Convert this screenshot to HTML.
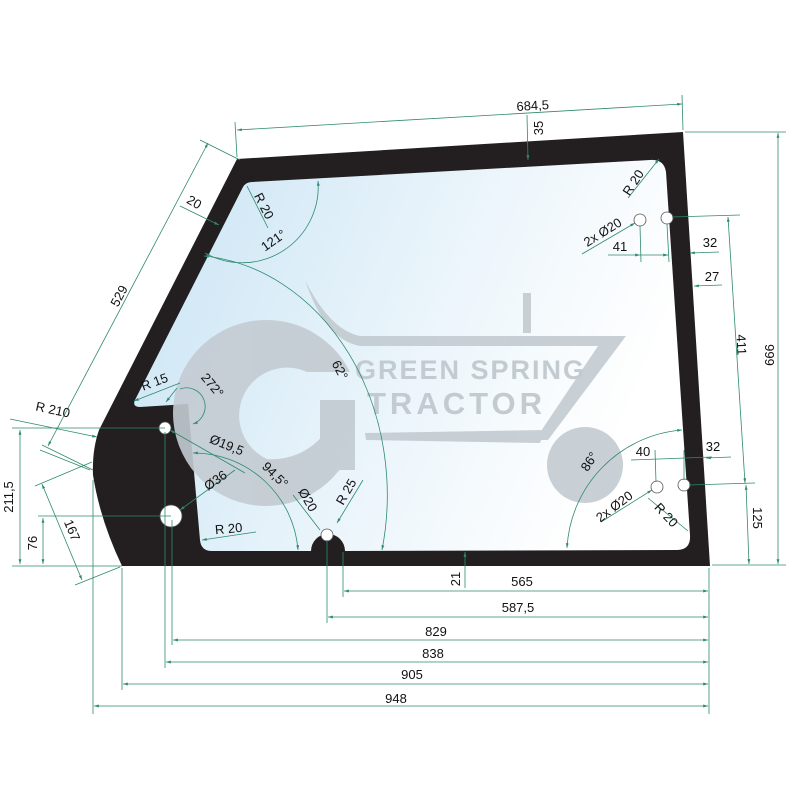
<!DOCTYPE html>
<html><head><meta charset="utf-8"><style>html,body{margin:0;padding:0;background:#fff}svg{display:block}</style></head>
<body>
<svg width="800" height="800" viewBox="0 0 800 800" xmlns="http://www.w3.org/2000/svg" font-family="Liberation Sans, sans-serif">
<defs>
<linearGradient id="gl" x1="0" y1="0" x2="1" y2="0.3">
<stop offset="0" stop-color="#c9e4f4"/><stop offset="0.6" stop-color="#ebf5fb"/><stop offset="1" stop-color="#ffffff"/>
</linearGradient>
<marker id="a" viewBox="0 0 10 10" refX="10" refY="5" markerWidth="6" markerHeight="6" orient="auto-start-reverse"><path d="M0,2 L10,5 L0,8z" fill="#2e8a6e"/></marker>
</defs>
<rect width="800" height="800" fill="#fff"/>
<path d="M237,159 L683,132 L710,566 L122,566 Q100,520 93,475 Q92,450 99,430 Z" fill="#231f20"/>
<path d="M252,182 L650,160 Q664,159 666,172 L690,535 Q691,550 677,550 L345,551 A17,17 0 0 0 311,551 L212,551 Q201,551 200,540 L188,404 L140,407 Q132,407 135,400 L243,187 Q246,182 252,182 Z" fill="url(#gl)"/>
<g fill="#c3cbd1" opacity="0.9">
<path d="M267,320 A93,93 0 1 0 355,440 L355,425 L330,425 A66,66 0 0 1 267,459 A46,46 0 1 1 307,372 L350,372 A93,93 0 0 0 267,320 Z"/>
<rect x="320" y="400" width="35" height="70"/>
<path d="M305,280 Q330,330 360,336 L626,336 L548,440 L535,440 L598,346 L360,346 Q325,340 305,280Z"/>
<path d="M365,433 L545,430 L540,443 L366,440Z"/>
<rect x="523" y="293" width="8" height="40"/>
<circle cx="585" cy="465" r="38"/>
</g>
<text x="355" y="379" font-size="27" font-weight="bold" fill="#c3cbd1" letter-spacing="2">GREEN SPRING</text>
<text x="367" y="414" font-size="31" font-weight="bold" fill="#c3cbd1" letter-spacing="4">TRACTOR</text>
<g fill="#fff" stroke="#555" stroke-width="0.8">
<circle cx="165" cy="428" r="6"/><circle cx="171" cy="516" r="11"/><circle cx="327" cy="535" r="6"/>
<circle cx="640" cy="220" r="6"/><circle cx="667" cy="218" r="6"/><circle cx="657" cy="487" r="6"/><circle cx="684" cy="485" r="6"/>
</g>
<g stroke="#2e8a6e" stroke-width="0.8" fill="none">
<line x1="237" y1="157" x2="235" y2="122"/><line x1="683" y1="130" x2="682" y2="95"/>
<line x1="237" y1="130" x2="682" y2="104" marker-start="url(#a)" marker-end="url(#a)"/>
<line x1="527" y1="115" x2="528" y2="160" marker-end="url(#a)"/>
<line x1="685" y1="132" x2="786" y2="132"/><line x1="712" y1="565" x2="786" y2="565"/>
<line x1="778" y1="133" x2="778" y2="564" marker-start="url(#a)" marker-end="url(#a)"/>
<line x1="672" y1="217" x2="740" y2="215"/><line x1="689" y1="485" x2="755" y2="483"/>
<line x1="728" y1="217" x2="745" y2="483" marker-start="url(#a)" marker-end="url(#a)"/>
<line x1="746" y1="485" x2="749" y2="564" marker-start="url(#a)" marker-end="url(#a)"/>
<line x1="608" y1="255" x2="640" y2="255" marker-end="url(#a)"/>
<line x1="640" y1="255" x2="668" y2="255" marker-end="url(#a)"/>
<line x1="719" y1="252" x2="690" y2="253" marker-end="url(#a)"/>
<line x1="640" y1="226" x2="641" y2="262"/><line x1="667" y1="224" x2="669" y2="262"/>
<line x1="722" y1="285" x2="694" y2="286" marker-end="url(#a)"/>
<line x1="631" y1="460" x2="712" y2="457"/>
<line x1="731" y1="457" x2="706" y2="458" marker-end="url(#a)"/>
<line x1="655" y1="450" x2="656" y2="482"/><line x1="684" y1="450" x2="684" y2="480"/>
<line x1="582" y1="254" x2="635" y2="223" marker-end="url(#a)"/>
<line x1="628" y1="198" x2="659" y2="159" marker-end="url(#a)"/>
<line x1="601" y1="522" x2="652" y2="490" marker-end="url(#a)"/>
<line x1="648" y1="498" x2="688" y2="531"/>
<line x1="208" y1="143" x2="48" y2="446" marker-start="url(#a)" marker-end="url(#a)"/>
<line x1="200" y1="140" x2="240" y2="160"/><line x1="40" y1="450" x2="90" y2="470"/>
<line x1="180" y1="206" x2="219" y2="225" marker-end="url(#a)"/>
<path d="M318,181 A76,76 0 0 1 205,253" marker-start="url(#a)" marker-end="url(#a)"/>
<line x1="247" y1="186" x2="268" y2="228"/>
<path d="M204,256 A200,240 0 0 1 382,550" marker-start="url(#a)" marker-end="url(#a)"/>
<path d="M567,548 A125,125 0 0 1 682,430" marker-start="url(#a)" marker-end="url(#a)"/>
<path d="M180,389 A18,18 0 1 1 193,424" marker-end="url(#a)"/>
<line x1="177" y1="388" x2="166" y2="402" marker-end="url(#a)"/>
<line x1="180" y1="383" x2="134" y2="401" marker-end="url(#a)"/>
<line x1="245" y1="473" x2="170" y2="430" marker-end="url(#a)"/>
<path d="M193,453 A105,105 0 0 1 298,550" marker-start="url(#a)" marker-end="url(#a)"/>
<line x1="235" y1="470" x2="180" y2="510" marker-end="url(#a)"/>
<line x1="256" y1="532" x2="202" y2="540" marker-end="url(#a)"/>
<line x1="293" y1="495" x2="320" y2="530"/>
<line x1="363" y1="480" x2="337" y2="523" marker-end="url(#a)"/>
<line x1="10" y1="419" x2="97" y2="437" marker-end="url(#a)"/>
<line x1="12" y1="428" x2="165" y2="428"/><line x1="38" y1="516" x2="171" y2="516"/>
<line x1="12" y1="566" x2="122" y2="566"/>
<line x1="20" y1="430" x2="20" y2="564" marker-start="url(#a)" marker-end="url(#a)"/>
<line x1="43" y1="518" x2="43" y2="564" marker-start="url(#a)" marker-end="url(#a)"/>
<line x1="35" y1="486" x2="92" y2="462"/>
<line x1="75" y1="585" x2="120" y2="567"/>
<line x1="42" y1="484" x2="82" y2="580" marker-start="url(#a)" marker-end="url(#a)"/>
<line x1="42" y1="445" x2="93" y2="470"/>
<line x1="122" y1="568" x2="122" y2="690"/><line x1="93" y1="480" x2="93" y2="714"/>
<line x1="165" y1="432" x2="165" y2="668"/><line x1="172" y1="520" x2="172" y2="645"/>
<line x1="327" y1="540" x2="327" y2="623"/><line x1="343" y1="552" x2="343" y2="597"/>
<line x1="709" y1="568" x2="709" y2="714"/>
<line x1="465" y1="588" x2="465" y2="552" marker-end="url(#a)"/>
<line x1="344" y1="591" x2="708" y2="591" marker-start="url(#a)" marker-end="url(#a)"/>
<line x1="328" y1="617" x2="708" y2="617" marker-start="url(#a)" marker-end="url(#a)"/>
<line x1="173" y1="640" x2="708" y2="640" marker-start="url(#a)" marker-end="url(#a)"/>
<line x1="166" y1="662" x2="708" y2="662" marker-start="url(#a)" marker-end="url(#a)"/>
<line x1="123" y1="684" x2="708" y2="684" marker-start="url(#a)" marker-end="url(#a)"/>
<line x1="94" y1="706" x2="708" y2="706" marker-start="url(#a)" marker-end="url(#a)"/>
</g>
<g font-size="13" fill="#111">
<text x="533" y="110" text-anchor="middle" transform="rotate(-3.5 533 110)">684,5</text>
<text x="0" y="0" transform="translate(543,128) rotate(-90)" text-anchor="middle">35</text>
<text x="0" y="0" transform="translate(765,355) rotate(90)" text-anchor="middle">999</text>
<text x="0" y="0" transform="translate(737,345) rotate(87)" text-anchor="middle">411</text>
<text x="0" y="0" transform="translate(753,518) rotate(90)" text-anchor="middle">125</text>
<text x="710" y="247" text-anchor="middle">32</text>
<text x="620" y="251" text-anchor="middle">41</text>
<text x="712" y="281" text-anchor="middle">27</text>
<text x="713" y="451" text-anchor="middle">32</text>
<text x="643" y="456" text-anchor="middle">40</text>
<text x="0" y="0" transform="translate(605,236) rotate(-32)" text-anchor="middle">2x Ø20</text>
<text x="0" y="0" transform="translate(637,185) rotate(-57)" text-anchor="middle">R 20</text>
<text x="0" y="0" transform="translate(617,510) rotate(-37)" text-anchor="middle">2x Ø20</text>
<text x="0" y="0" transform="translate(663,518) rotate(47)" text-anchor="middle">R 20</text>
<text x="0" y="0" transform="translate(593,464) rotate(-57)" text-anchor="middle">86°</text>
<text x="0" y="0" transform="translate(123,298) rotate(-62)" text-anchor="middle">529</text>
<text x="0" y="0" transform="translate(192,206) rotate(30)" text-anchor="middle">20</text>
<text x="0" y="0" transform="translate(260,208) rotate(63)" text-anchor="middle">R 20</text>
<text x="0" y="0" transform="translate(276,244) rotate(-35)" text-anchor="middle">121°</text>
<text x="0" y="0" transform="translate(336,372) rotate(62)" text-anchor="middle">62°</text>
<text x="0" y="0" transform="translate(156,386) rotate(-20)" text-anchor="middle">R 15</text>
<text x="0" y="0" transform="translate(209,388) rotate(50)" text-anchor="middle">272°</text>
<text x="0" y="0" transform="translate(225,449) rotate(22)" text-anchor="middle">Ø19,5</text>
<text x="0" y="0" transform="translate(272,478) rotate(45)" text-anchor="middle">94,5°</text>
<text x="0" y="0" transform="translate(218,484) rotate(-35)" text-anchor="middle">Ø36</text>
<text x="229" y="533" text-anchor="middle" transform="rotate(-5 229 533)">R 20</text>
<text x="0" y="0" transform="translate(304,502) rotate(60)" text-anchor="middle">Ø20</text>
<text x="0" y="0" transform="translate(350,494) rotate(-60)" text-anchor="middle">R 25</text>
<text x="52" y="414" text-anchor="middle" transform="rotate(12 52 414)">R 210</text>
<text x="0" y="0" transform="translate(13,497) rotate(-90)" text-anchor="middle">211,5</text>
<text x="0" y="0" transform="translate(37,543) rotate(-90)" text-anchor="middle">76</text>
<text x="0" y="0" transform="translate(68,532) rotate(67)" text-anchor="middle">167</text>
<text x="0" y="0" transform="translate(460,579) rotate(-90)" text-anchor="middle">21</text>
<text x="522" y="586" text-anchor="middle">565</text>
<text x="518" y="612" text-anchor="middle">587,5</text>
<text x="436" y="636" text-anchor="middle">829</text>
<text x="433" y="658" text-anchor="middle">838</text>
<text x="412" y="679" text-anchor="middle">905</text>
<text x="396" y="703" text-anchor="middle">948</text>
</g>
</svg>
</body></html>
